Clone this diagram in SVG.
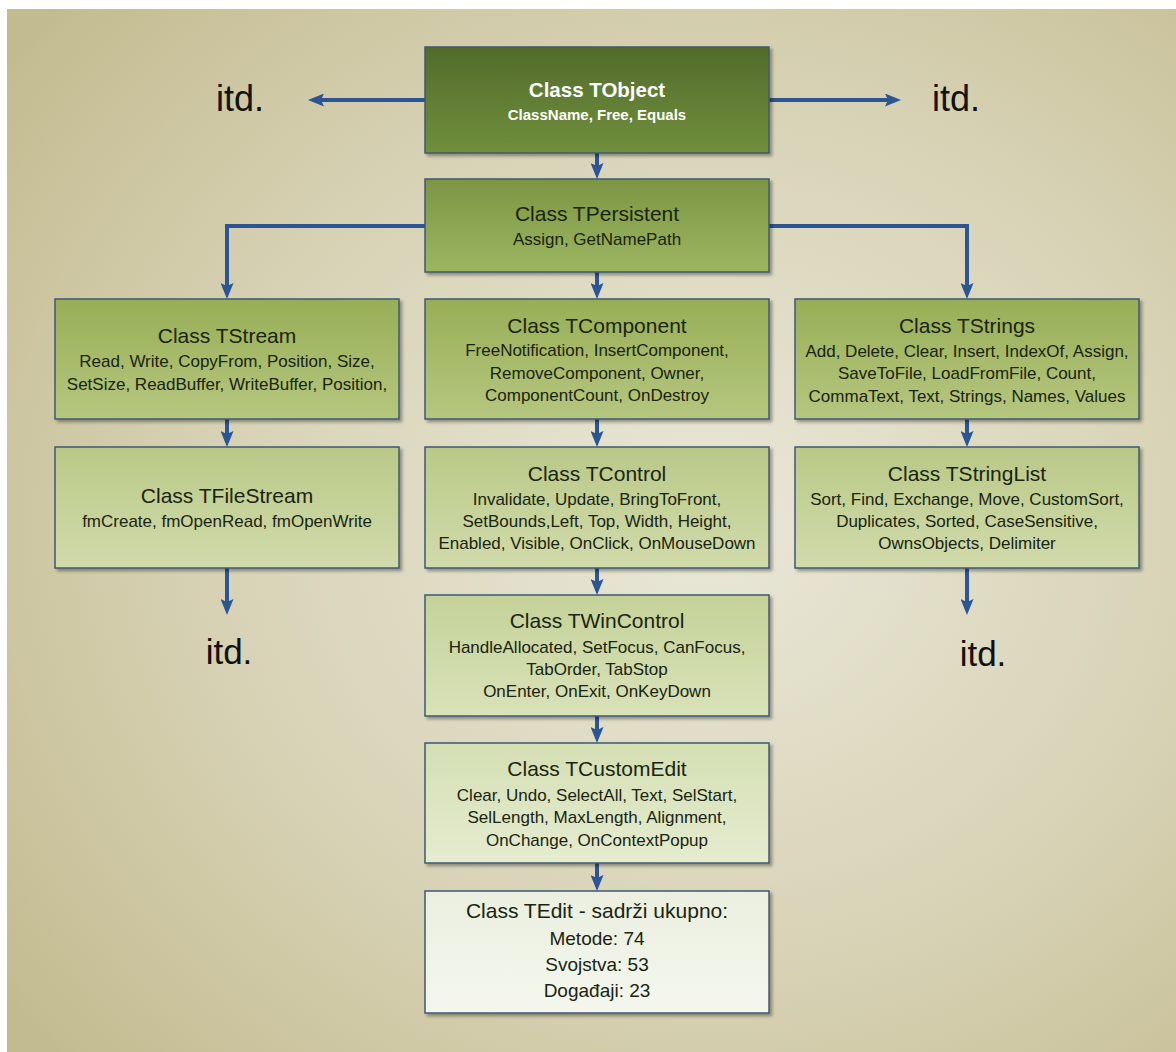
<svg xmlns="http://www.w3.org/2000/svg" width="1176" height="1052" viewBox="0 0 1176 1052">
<defs>
<radialGradient id="bg" cx="0.6" cy="0.5" r="0.75">
<stop offset="0" stop-color="#e9e7d8"/>
<stop offset="0.55" stop-color="#d8d3b6"/>
<stop offset="1" stop-color="#c3bb90"/>
</radialGradient>
<linearGradient id="g0" x1="0" y1="0" x2="0" y2="1"><stop offset="0" stop-color="#526b2b"/><stop offset="1" stop-color="#70903c"/></linearGradient>
<linearGradient id="g1" x1="0" y1="0" x2="0" y2="1"><stop offset="0" stop-color="#7b9544"/><stop offset="1" stop-color="#9cb661"/></linearGradient>
<linearGradient id="g2" x1="0" y1="0" x2="0" y2="1"><stop offset="0" stop-color="#98ae56"/><stop offset="1" stop-color="#b5c77f"/></linearGradient>
<linearGradient id="g3" x1="0" y1="0" x2="0" y2="1"><stop offset="0" stop-color="#b9c987"/><stop offset="1" stop-color="#d1dbab"/></linearGradient>
<linearGradient id="g4" x1="0" y1="0" x2="0" y2="1"><stop offset="0" stop-color="#c4d298"/><stop offset="1" stop-color="#d9e2b9"/></linearGradient>
<linearGradient id="g5" x1="0" y1="0" x2="0" y2="1"><stop offset="0" stop-color="#d4dfb3"/><stop offset="1" stop-color="#e5ecd0"/></linearGradient>
<linearGradient id="g6" x1="0" y1="0" x2="0" y2="1"><stop offset="0" stop-color="#eaefdf"/><stop offset="1" stop-color="#f5f7ee"/></linearGradient>
<filter id="sh" x="-5%" y="-5%" width="115%" height="120%">
<feDropShadow dx="2.5" dy="2.5" stdDeviation="1.5" flood-color="#000" flood-opacity="0.35"/>
</filter>
<marker id="ah" markerUnits="userSpaceOnUse" markerWidth="16" markerHeight="13" viewBox="0 0 16 13" refX="3" refY="6.5" orient="auto">
<path d="M0,0 L16,6.5 L0,13 L3,6.5 z" fill="#2b5593"/>
</marker>
</defs>
<style>
.box{stroke:#3f5875;stroke-width:1.5;filter:url(#sh)}
.t{font-family:"Liberation Sans",Arial,sans-serif;font-size:21px;fill:#1a2410;text-anchor:middle}
.d{font-family:"Liberation Sans",Arial,sans-serif;font-size:17px;fill:#1a2410;text-anchor:middle}
.tw{font-family:"Liberation Sans",Arial,sans-serif;font-size:20.5px;font-weight:bold;fill:#ffffff;text-anchor:middle}
.dw{font-family:"Liberation Sans",Arial,sans-serif;font-size:15px;font-weight:bold;fill:#ffffff;text-anchor:middle}
.e{font-family:"Liberation Sans",Arial,sans-serif;font-size:19px;fill:#1a2410;text-anchor:middle}
.itd{font-family:"Liberation Sans",Arial,sans-serif;fill:#111111;text-anchor:middle}
.c{fill:none;stroke:#2b5593;stroke-width:4;marker-end:url(#ah)}
</style>
<rect width="1176" height="1052" fill="#ffffff"/>
<rect x="7" y="9" width="1169" height="1043" fill="url(#bg)"/>

<g id="connectors">
<path class="c" d="M425,100 H321"/>
<path class="c" d="M769,100 H888"/>
<path class="c" d="M597,153 V166"/>
<path class="c" d="M597,272 V286"/>
<path class="c" d="M425,226 H227 V286"/>
<path class="c" d="M769,226 H967 V286"/>
<path class="c" d="M227,419 V434"/>
<path class="c" d="M597,419 V434"/>
<path class="c" d="M967,419 V434"/>
<path class="c" d="M227,568 V602"/>
<path class="c" d="M967,568 V602"/>
<path class="c" d="M597,568 V582"/>
<path class="c" d="M597,716 V730"/>
<path class="c" d="M597,863 V878"/>
</g>

<g id="itd-left"><text class="itd" x="240" y="111" font-size="36">itd.</text></g>
<g id="itd-right"><text class="itd" x="956" y="111" font-size="36">itd.</text></g>
<g id="itd-bottom-left"><text class="itd" x="229" y="664" font-size="35">itd.</text></g>
<g id="itd-bottom-right"><text class="itd" x="983" y="666" font-size="35">itd.</text></g>

<g id="TObject">
<rect class="box" x="425" y="47" width="344" height="106" fill="url(#g0)"/>
<text class="tw" x="597" y="97">Class TObject</text>
<text class="dw" x="597" y="120">ClassName, Free, Equals</text>
</g>

<g id="TPersistent">
<rect class="box" x="425" y="179" width="344" height="93" fill="url(#g1)"/>
<text class="t" x="597" y="221">Class TPersistent</text>
<text class="d" x="597" y="245">Assign, GetNamePath</text>
</g>

<g id="TStream">
<rect class="box" x="55" y="299" width="344" height="120" fill="url(#g2)"/>
<text class="t" x="227" y="343">Class TStream</text>
<text class="d" x="227" y="367">Read, Write, CopyFrom, Position, Size,</text>
<text class="d" x="227" y="390">SetSize, ReadBuffer, WriteBuffer, Position,</text>
</g>

<g id="TComponent">
<rect class="box" x="425" y="299" width="344" height="120" fill="url(#g2)"/>
<text class="t" x="597" y="333">Class TComponent</text>
<text class="d" x="597" y="356">FreeNotification, InsertComponent,</text>
<text class="d" x="597" y="379">RemoveComponent, Owner,</text>
<text class="d" x="597" y="401">ComponentCount, OnDestroy</text>
</g>

<g id="TStrings">
<rect class="box" x="795" y="299" width="344" height="120" fill="url(#g2)"/>
<text class="t" x="967" y="333">Class TStrings</text>
<text class="d" x="967" y="357">Add, Delete, Clear, Insert, IndexOf, Assign,</text>
<text class="d" x="967" y="379">SaveToFile, LoadFromFile, Count,</text>
<text class="d" x="967" y="402">CommaText, Text, Strings, Names, Values</text>
</g>

<g id="TFileStream">
<rect class="box" x="55" y="447" width="344" height="121" fill="url(#g3)"/>
<text class="t" x="227" y="503">Class TFileStream</text>
<text class="d" x="227" y="527">fmCreate, fmOpenRead, fmOpenWrite</text>
</g>

<g id="TControl">
<rect class="box" x="425" y="447" width="344" height="121" fill="url(#g3)"/>
<text class="t" x="597" y="481">Class TControl</text>
<text class="d" x="597" y="505">Invalidate, Update, BringToFront,</text>
<text class="d" x="597" y="527">SetBounds,Left, Top, Width, Height,</text>
<text class="d" x="597" y="549">Enabled, Visible, OnClick, OnMouseDown</text>
</g>

<g id="TStringList">
<rect class="box" x="795" y="447" width="344" height="121" fill="url(#g3)"/>
<text class="t" x="967" y="481">Class TStringList</text>
<text class="d" x="967" y="505">Sort, Find, Exchange, Move, CustomSort,</text>
<text class="d" x="967" y="527">Duplicates, Sorted, CaseSensitive,</text>
<text class="d" x="967" y="549">OwnsObjects, Delimiter</text>
</g>

<g id="TWinControl">
<rect class="box" x="425" y="595" width="344" height="121" fill="url(#g4)"/>
<text class="t" x="597" y="628">Class TWinControl</text>
<text class="d" x="597" y="653">HandleAllocated, SetFocus, CanFocus,</text>
<text class="d" x="597" y="675">TabOrder, TabStop</text>
<text class="d" x="597" y="697">OnEnter, OnExit, OnKeyDown</text>
</g>

<g id="TCustomEdit">
<rect class="box" x="425" y="743" width="344" height="120" fill="url(#g5)"/>
<text class="t" x="597" y="776">Class TCustomEdit</text>
<text class="d" x="597" y="801">Clear, Undo, SelectAll, Text, SelStart,</text>
<text class="d" x="597" y="823">SelLength, MaxLength, Alignment,</text>
<text class="d" x="597" y="846">OnChange, OnContextPopup</text>
</g>

<g id="TEdit">
<rect class="box" x="425" y="891" width="344" height="122" fill="url(#g6)"/>
<text class="t" x="597" y="918">Class TEdit - sadrži ukupno:</text>
<text class="e" x="597" y="945">Metode: 74</text>
<text class="e" x="597" y="971">Svojstva: 53</text>
<text class="e" x="597" y="997">Događaji: 23</text>
</g>
</svg>
